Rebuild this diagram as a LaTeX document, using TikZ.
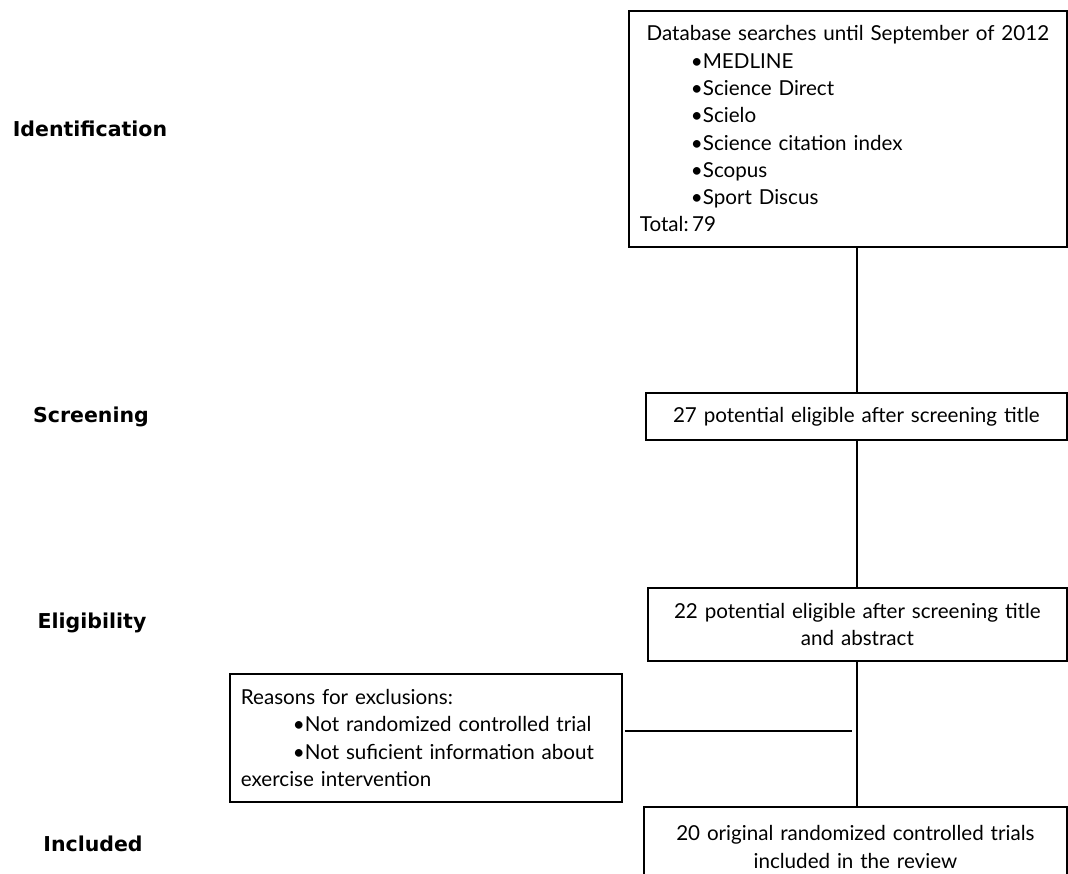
\documentclass[tikz,border=0pt]{standalone}
\usepackage{fontspec}
\setmainfont{Lato}
\newfontfamily\stagefont{DejaVu Sans}
\begin{document}
\begin{tikzpicture}[x=1pt,y=-1pt,
  box/.style={draw, line width=1.8pt, inner ysep=0pt, inner xsep=11pt,
              font=\fontsize{20.6}{27.3}\selectfont},
  stage/.style={font=\stagefont\bfseries\fontsize{20.5}{24}\selectfont, anchor=center},
  link/.style={line width=1.8pt}]
\useasboundingbox (0,0) rectangle (1068,874);
\fill[white] (0,0) rectangle (1068,874);

% stage labels
\node[stage] (sid) at (90,129) {Identification};
\node[stage] (ssc) at (91,417) {Screening};
\node[stage] (sel) at (92,623) {Eligibility};
\node[stage] (sin) at (93,844) {Included};

% boxes
\node[box, anchor=north west, minimum height=236pt, text width=416pt, align=left] (db) at (628,10)
 {\makebox[\linewidth][c]{Database searches until September of 2012}\\
  \hspace*{51pt}•MEDLINE\\
  \hspace*{51pt}•Science Direct\\
  \hspace*{51pt}•Scielo\\
  \hspace*{51pt}•Science citation index\\
  \hspace*{51pt}•Scopus\\
  \hspace*{51pt}•Sport Discus\\
  Total:\,79};

\node[box, anchor=north west, minimum height=47pt, text width=399pt, align=center] (scr) at (645,392)
 {27 potential eligible after screening title};

\node[box, anchor=north west, minimum height=73pt, text width=397pt, align=center] (elig) at (647,587)
 {22 potential eligible after screening title\\and abstract};

\node[box, anchor=north west, minimum height=128pt, text width=370pt, align=left] (reasons) at (229,673)
 {Reasons for exclusions:\\
  \hspace*{52pt}•Not randomized controlled trial\\
  \hspace*{52pt}•Not suficient information about\\
  exercise intervention};

\node[box, anchor=north west, minimum height=80pt, text width=401pt, align=center] (incl) at (643,806)
 {20 original randomized controlled trials\\included in the review};

% connectors
\coordinate (spine) at (857,0);
\coordinate (xend) at (852,731);
\draw[link] (spine |- db.south) -- (spine |- scr.north);
\draw[link] (spine |- scr.south) -- (spine |- elig.north);
\draw[link] (spine |- elig.south) -- (spine |- incl.north);
\draw[link] ([xshift=2pt]reasons.east |- xend) -- (xend);
\end{tikzpicture}
\end{document}
